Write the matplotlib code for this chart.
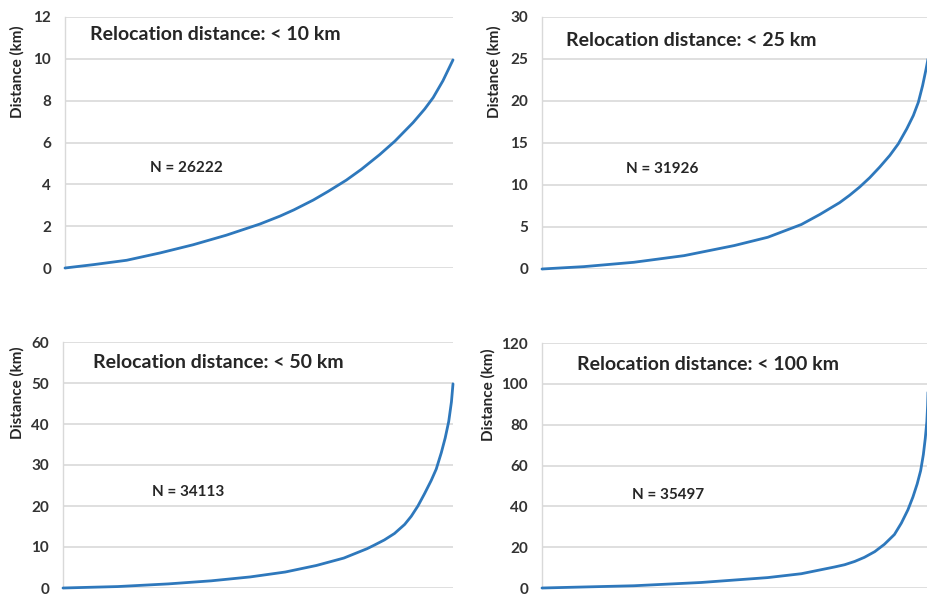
import matplotlib
matplotlib.use("Agg")
import matplotlib.pyplot as plt

plt.rcParams['font.family'] = ['Lato', 'DejaVu Sans']

# ---- data (fraction of ranked relocations, distance in km) ----
titles = ["Relocation distance: < 10 km", "Relocation distance: < 25 km",
          "Relocation distance: < 50 km", "Relocation distance: < 100 km"]
n_labels = ["N = 26222", "N = 31926", "N = 34113", "N = 35497"]
n_records = [26222, 31926, 34113, 35497]

frac_10 = [0, 0.073, 0.159, 0.245, 0.330, 0.416, 0.502, 0.554, 0.59, 0.64, 0.678, 0.725,
           0.764, 0.811, 0.85, 0.897, 0.927, 0.949, 0.974, 1.0]
dist_10 = [0, 0.16, 0.37, 0.72, 1.11, 1.57, 2.1, 2.48, 2.78, 3.25, 3.66, 4.2,
           4.72, 5.42, 6.06, 6.95, 7.6, 8.15, 8.95, 9.95]

frac_25 = [0, 0.108, 0.238, 0.368, 0.498, 0.585, 0.672, 0.72, 0.771, 0.797, 0.823, 0.849,
           0.875, 0.901, 0.923, 0.945, 0.962, 0.975, 0.986, 0.995, 1.0]
dist_25 = [0, 0.28, 0.80, 1.59, 2.79, 3.78, 5.3, 6.5, 7.9, 8.78, 9.76, 10.87,
           12.14, 13.52, 14.9, 16.69, 18.27, 19.85, 21.83, 23.8, 25.0]

frac_50 = [0, 0.14, 0.27, 0.38, 0.48, 0.57, 0.65, 0.72, 0.78, 0.798, 0.824, 0.850, 0.876,
           0.893, 0.910, 0.927, 0.944, 0.957, 0.970, 0.980, 0.989, 0.996, 1.0]
dist_50 = [0, 0.35, 1.0, 1.75, 2.7, 3.9, 5.5, 7.3, 9.6, 10.45, 11.72, 13.3, 15.5,
           17.5, 20.0, 23.0, 26.2, 29.0, 33.0, 36.6, 40.6, 45.4, 49.8]

frac_100 = [0, 0.238, 0.412, 0.585, 0.672, 0.758, 0.784, 0.810, 0.835, 0.862, 0.887, 0.913,
            0.931, 0.948, 0.961, 0.972, 0.981, 0.988, 0.993, 0.997, 0.999, 1.0]
dist_100 = [0, 1.1, 2.7, 5.1, 7.0, 10.3, 11.4, 13.0, 15.0, 17.8, 21.4, 26.2,
            31.8, 38.3, 44.6, 51.0, 57.5, 65.4, 73.4, 81.5, 89.4, 95.9]

fracs = [frac_10, frac_25, frac_50, frac_100]
dists = [dist_10, dist_25, dist_50, dist_100]
y_max = [12, 30, 60, 120]
y_step = [2, 5, 10, 20]

# ---- layout (pixels in a 928x597 canvas) ----
W, H = 928, 597
axes_px = [(65, 17, 453, 268), (542, 17, 928, 269), (63, 342, 453, 588), (542, 343, 928, 588)]
title_px = [(90, 35), (566, 41), (93, 362), (577, 364)]
nlab_px = [(150, 168), (626, 169), (152, 492), (632, 495)]
ylab_px = [(17, 72), (494, 72), (17, 393), (488, 395)]

fig = plt.figure(figsize=(W / 100, H / 100), dpi=100)
fig.patch.set_facecolor('white')

grid_c = '#d9d9d9'
line_c = '#2e78bc'
txt_c = '#262626'

for i in range(4):
    l, t, r, b = axes_px[i]
    ax = fig.add_axes([l / W, 1 - b / H, (r - l) / W, (b - t) / H])
    x = [f * n_records[i] for f in fracs[i]]
    ax.plot(x, dists[i], color=line_c, lw=2.0, solid_capstyle='round',
            solid_joinstyle='round', zorder=3, clip_on=False)
    ax.set_xlim(0, n_records[i])
    ax.set_ylim(0, y_max[i])
    ax.set_yticks(list(range(0, y_max[i] + 1, y_step[i])))
    ax.set_xticks([])
    ax.grid(axis='y', color=grid_c, lw=1.2, zorder=0)
    for s in ['top', 'right', 'bottom']:
        ax.spines[s].set_visible(False)
    ax.spines['left'].set_color(grid_c)
    ax.spines['left'].set_linewidth(1.0)
    ax.tick_params(axis='y', length=0, pad=10, labelsize=11, labelcolor='#333333')
    for lab in ax.get_yticklabels():
        lab.set_fontweight('bold')
    ax.set_facecolor('none')

    tx, ty = title_px[i]
    fig.text(tx / W, 1 - ty / H, titles[i], fontsize=14, fontweight='bold',
             color=txt_c, ha='left', va='center')
    nx, ny = nlab_px[i]
    fig.text(nx / W, 1 - ny / H, n_labels[i], fontsize=11, fontweight='bold',
             color=txt_c, ha='left', va='center')
    yx, yy = ylab_px[i]
    fig.text(yx / W, 1 - yy / H, "Distance (km)", fontsize=11, fontweight='bold',
             color=txt_c, rotation=90, ha='center', va='center')

fig.savefig('out.png', dpi=100, facecolor='white')
